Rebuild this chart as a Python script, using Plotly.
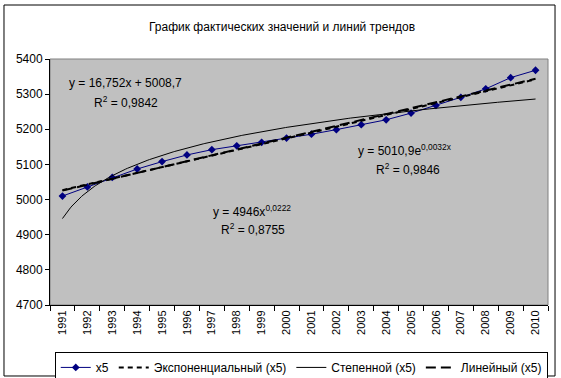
import numpy as np
import plotly.graph_objects as go

years = [str(y) for y in range(1991, 2011)]
x5 = [5010, 5036, 5063, 5087, 5108, 5127, 5142, 5153, 5163, 5175,
      5186, 5199, 5213, 5227, 5246, 5268, 5291, 5315, 5347, 5368]

# trend line coefficients as shown in the chart labels
lin_a, lin_b = 16.752, 5008.7
exp_a, exp_b = 5010.9, 0.0032
pow_a, pow_b = 4946.0, 0.0222

yticks = [4700, 4800, 4900, 5000, 5100, 5200, 5300, 5400]

idx = np.arange(1, len(years) + 1)
tx = np.linspace(1, len(years), 300)

FONT = "Arial, Liberation Sans, sans-serif"

fig = go.Figure()
fig.add_trace(go.Scatter(x=idx, y=x5, name="x5", mode="lines+markers",
                         line=dict(color="#000080", width=1),
                         marker=dict(symbol="diamond", size=6, color="#000080")))
fig.add_trace(go.Scatter(x=tx, y=exp_a * np.exp(exp_b * tx), name="Экспоненциальный (x5)",
                         mode="lines", line=dict(color="black", width=2, dash="5px,4px")))
fig.add_trace(go.Scatter(x=tx, y=pow_a * tx ** pow_b, name="Степенной (x5)",
                         mode="lines", line=dict(color="black", width=1)))
fig.add_trace(go.Scatter(x=tx, y=lin_a * tx + lin_b, name="Линейный (x5)",
                         mode="lines", line=dict(color="black", width=2, dash="10px,5px")))

ann_font = dict(family=FONT, size=12, color="black")
anns = [
    (0.151, 0.902, "y = 16,752x + 5008,7"),
    (0.153, 0.825, "R<sup>2</sup> = 0,9842"),
    (0.713, 0.630, "y = 5010,9e<sup>0,0032x</sup>"),
    (0.718, 0.553, "R<sup>2</sup> = 0,9846"),
    (0.406, 0.382, "y = 4946x<sup>0,0222</sup>"),
    (0.408, 0.309, "R<sup>2</sup> = 0,8755"),
]
for ax_, ay_, t in anns:
    fig.add_annotation(x=ax_, y=ay_, xref="paper", yref="paper", text=t,
                       showarrow=False, font=ann_font, xanchor="center", yanchor="middle")

fig.add_annotation(x=0.466, y=1.168, xref="paper", yref="paper",
                   text="График фактических значений и линий трендов",
                   showarrow=False, font=dict(family=FONT, size=12, color="black"))

# plot area frame (gray) and outer chart border
fig.add_shape(type="rect", xref="x domain", yref="y domain", x0=0, x1=1, y0=0, y1=1,
              line=dict(color="#808080", width=1), layer="below")
fig.add_shape(type="rect", xref="paper", yref="paper", x0=-0.0924, x1=1.0141,
              y0=-0.2886, y1=1.2195, line=dict(color="black", width=1))

fig.update_layout(
    width=561, height=378,
    margin=dict(l=50, r=13, t=59, b=73, autoexpand=False),
    paper_bgcolor="white", plot_bgcolor="#C0C0C0",
    font=dict(family=FONT, size=12, color="black"),
    showlegend=True,
    legend=dict(orientation="h", xref="container", yref="container",
                x=0.537, xanchor="center", y=0.069, yanchor="top",
                bordercolor="black", borderwidth=1, bgcolor="white",
                font=dict(family=FONT, size=12), itemwidth=30,
                tracegroupgap=0),
)
fig.update_xaxes(range=[0.5, len(years) + 0.5], tickmode="array", tickvals=idx,
                 ticktext=years, tickangle=-90, ticks="", showgrid=False,
                 zeroline=False, showline=True, linecolor="black", linewidth=1,
                 automargin=False, tickfont=dict(family=FONT, size=11),
                 minor=dict(tickmode="array", tickvals=list(np.arange(0.5, len(years) + 1, 1.0)),
                            ticks="outside", ticklen=5, tickcolor="black", showgrid=False))
fig.update_yaxes(range=[4700, 5400], tickmode="array", tickvals=yticks,
                 ticks="outside", ticklen=4, tickcolor="black", showgrid=False,
                 zeroline=False, showline=True, linecolor="black", linewidth=1,
                 automargin=False, tickfont=dict(family=FONT, size=12))

fig.write_html("out.html", config={"displayModeBar": False},
               post_script="document.body.style.margin='0';document.body.style.padding='0';")
